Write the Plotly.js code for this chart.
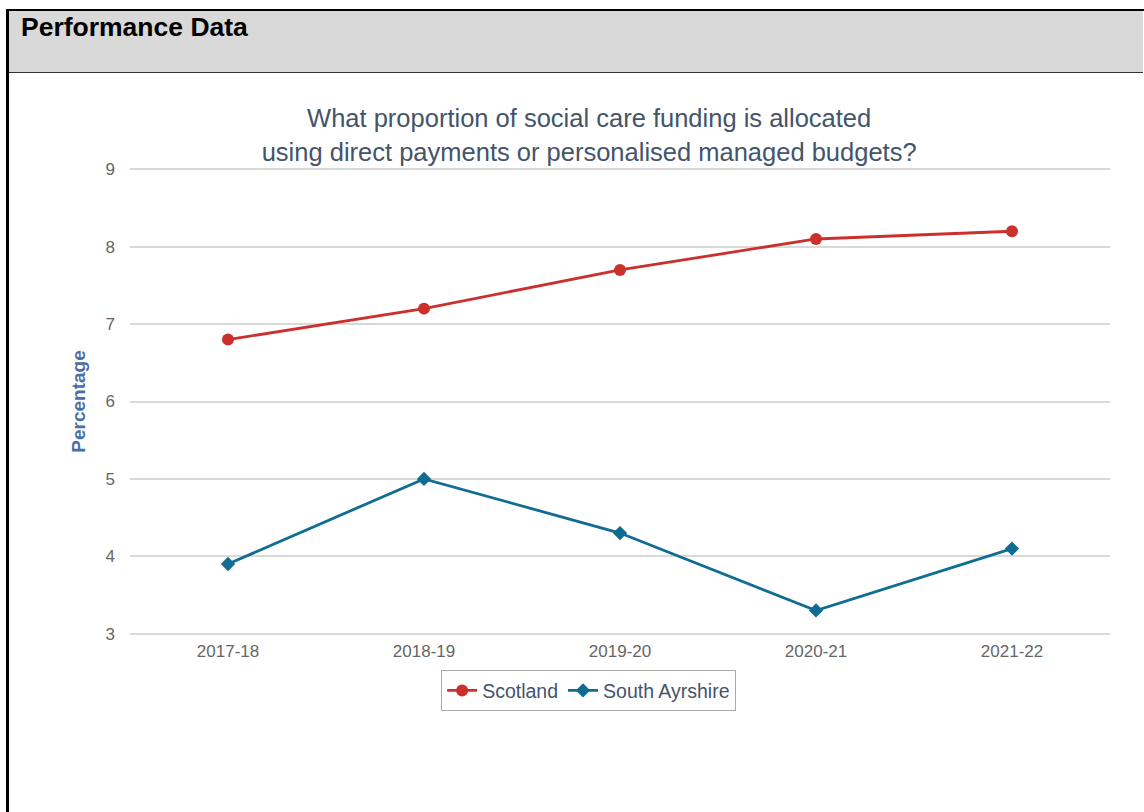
<!DOCTYPE html>
<html>
<head>
<meta charset="utf-8">
<script src="https://cdn.plot.ly/plotly-3.0.1.min.js"></script>
<style>
html,body{margin:0;padding:0;background:#fff;width:1144px;height:812px;overflow:hidden;font-family:"Liberation Sans",Arial,sans-serif;}
#frame{position:absolute;left:6px;top:9px;width:1140px;height:810px;border-left:3px solid #000;border-top:2px solid #000;box-sizing:border-box;}
#header{position:absolute;left:9px;top:11px;width:1134px;height:62px;background:#d9d9d9;border-bottom:1px solid #333;box-sizing:border-box;}
#header span{position:absolute;left:12px;top:1px;font-weight:bold;font-size:26.5px;color:#000;}
#chart{position:absolute;left:0;top:0;width:1144px;height:812px;}
</style>
</head>
<body>
<div id="chart"></div>
<div id="frame"></div>
<div id="header"><span>Performance Data</span></div>
<script>
const years = ["2017-18", "2018-19", "2019-20", "2020-21", "2021-22"];
const scotland = [6.8, 7.2, 7.7, 8.1, 8.2];
const southAyrshire = [3.9, 5.0, 4.3, 3.3, 4.1];
const yTicks = [3, 4, 5, 6, 7, 8, 9];

const traces = [
  {
    x: years, y: scotland, name: "Scotland", type: "scatter", mode: "lines+markers",
    line: {color: "#cb302d", width: 2.8},
    marker: {color: "#cb302d", size: 12, symbol: "circle"}
  },
  {
    x: years, y: southAyrshire, name: "South Ayrshire", type: "scatter", mode: "lines+markers",
    line: {color: "#0f6c93", width: 2.8},
    marker: {color: "#0f6c93", size: 11, symbol: "diamond"}
  }
];

const layout = {
  width: 1144, height: 812,
  margin: {l: 130, r: 34, t: 166.7, b: 175.7},
  paper_bgcolor: "#ffffff", plot_bgcolor: "#ffffff",
  font: {family: "Liberation Sans, Arial, sans-serif", color: "#666666"},
  title: {
    text: "What proportion of social care funding is allocated<br>using direct payments or personalised managed budgets?",
    font: {size: 25.5, color: "#44546a", family: "Liberation Sans, Arial, sans-serif"},
    x: 0.515, xanchor: "center", y: 0.843, yanchor: "middle"
  },
  xaxis: {
    type: "category", range: [-0.5, 4.5],
    showgrid: false, zeroline: false, showline: false,
    ticks: "", tickfont: {size: 17, color: "#666666"}, ticklabelstandoff: 3
  },
  yaxis: {
    range: [2.97, 9.03], tickvals: yTicks, ticktext: yTicks.map(String),
    showgrid: true, gridcolor: "#d9d9d9", gridwidth: 2,
    zeroline: false, showline: false, ticks: "",
    tickfont: {size: 17, color: "#666666"}, ticklabelstandoff: 14,
    title: {text: "<b>Percentage</b>", font: {size: 19, color: "#4a6fa5"}, standoff: 14}
  },
  legend: {
    orientation: "h", x: 0.468, xanchor: "center", y: -0.073, yanchor: "top",
    bordercolor: "#aaaaaa", borderwidth: 1, bgcolor: "#ffffff",
    font: {size: 19.5, color: "#44546a"}, itemwidth: 30
  },
  showlegend: true
};

Plotly.newPlot("chart", traces, layout, {displayModeBar: false, staticPlot: true});
</script>
</body>
</html>
